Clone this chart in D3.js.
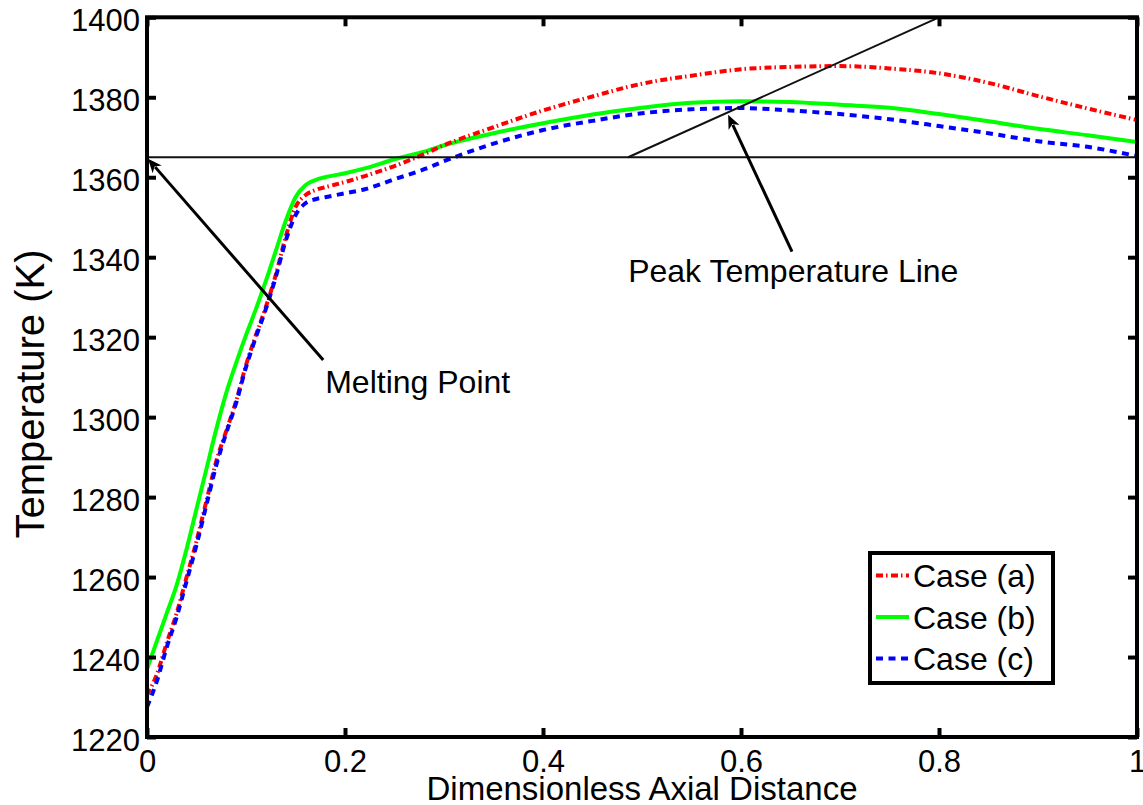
<!DOCTYPE html>
<html>
<head>
<meta charset="utf-8">
<script src="https://cdn.jsdelivr.net/npm/d3@7"></script>
<style>
  html, body { margin: 0; padding: 0; background: #fff; }
  svg { display: block; font-family: "Liberation Sans", Arial, Helvetica, sans-serif; }
</style>
</head>
<body>
<svg id="chart" width="1143" height="805"></svg>
<script>
// Axial positions (dimensionless) at which the temperature profiles are sampled
const axialPos = [0, 0.01, 0.02, 0.03, 0.04, 0.05, 0.06, 0.07, 0.08, 0.09, 0.10,
  0.11, 0.12, 0.13, 0.14, 0.15, 0.16, 0.17, 0.18, 0.20, 0.22, 0.25, 0.28, 0.30,
  0.35, 0.40, 0.45, 0.50, 0.55, 0.60, 0.65, 0.70, 0.75, 0.80, 0.85, 0.90, 0.95, 1.00];

// Temperature (K) for each case
const caseA = [1230.5, 1235.7, 1243.6, 1251, 1260, 1269, 1279, 1289, 1296.5, 1304, 1313,
  1320.5, 1327.5, 1335.5, 1345, 1352.5, 1355.5, 1356.8, 1357.5, 1358.8, 1360.3, 1362.8, 1365.8, 1368,
  1372.5, 1376.7, 1380.2, 1383.4, 1385.4, 1387, 1387.6, 1387.8, 1387.2, 1386, 1383.6, 1380.3, 1377.2, 1374.3];
const caseB = [1237, 1244, 1251, 1258, 1267, 1277, 1287, 1297, 1306, 1313.5, 1320.5,
  1327, 1334, 1341.5, 1349, 1355, 1358, 1359.3, 1360, 1361, 1362.2, 1364.5, 1366.4, 1368,
  1371, 1373.5, 1375.7, 1377.4, 1378.6, 1379, 1378.8, 1378.1, 1377.4, 1375.8, 1374, 1372.1, 1370.5, 1368.8];
const caseC = [1227.5, 1234, 1242.5, 1250, 1259, 1268, 1278, 1288, 1296, 1303.5, 1312.5,
  1320, 1327, 1335, 1344, 1350.5, 1353.5, 1354.5, 1355, 1356, 1357, 1359.5, 1362, 1364,
  1368.4, 1371.8, 1374.1, 1376, 1377, 1377.3, 1376.7, 1375.8, 1374.5, 1372.8, 1371, 1369, 1367.6, 1365.3];

const seriesNames = ["Case (a)", "Case (b)", "Case (c)"];
const xTicks = [0, 0.2, 0.4, 0.6, 0.8, 1];
const xTickLabels = ["0", "0.2", "0.4", "0.6", "0.8", "1"];
const yTicks = [1220, 1240, 1260, 1280, 1300, 1320, 1340, 1360, 1380, 1400];

// Annotation values
const meltingPoint = 1365;
const peakLine = [[0.486, 1365], [0.8, 1400]];
const meltingArrow = [[0.178, 1314.3], [0.001, 1364.6]];
const peakArrow = [[0.6515, 1341.4], [0.587, 1375.6]];
const meltingLabel = { text: "Melting Point", x: 0.18, t: 1306 };
const peakLabel = { text: "Peak Temperature Line", x: 0.486, t: 1333.7 };

const W = 1143, H = 805;
const m = { left: 147, right: 6, top: 17.3, bottom: 68 };
const x = d3.scaleLinear().domain([0, 1]).range([m.left, W - m.right]);
const y = d3.scaleLinear().domain([1220, 1400]).range([H - m.bottom, m.top]);

const svg = d3.select("#chart");

svg.append("defs").append("clipPath").attr("id", "plotClip")
  .append("rect")
  .attr("x", x(0)).attr("y", y(1400))
  .attr("width", x(1) - x(0)).attr("height", y(1220) - y(1400));

const styles = [
  { color: "#ff0000", dash: "7,3,1.5,3.5" },
  { color: "#00ff00", dash: null },
  { color: "#0000ff", dash: "7,5.5" }
];
const allSeries = [caseA, caseB, caseC];

const line = d3.line()
  .x((d, i) => x(axialPos[i]))
  .y(d => y(d))
  .curve(d3.curveMonotoneX);

const plot = svg.append("g").attr("clip-path", "url(#plotClip)");

// Draw the three temperature profiles (b first so the dashed ones remain visible)
[1, 0, 2].forEach(k => {
  plot.append("path")
    .datum(allSeries[k])
    .attr("fill", "none")
    .attr("stroke", styles[k].color)
    .attr("stroke-width", 4)
    .attr("stroke-dasharray", styles[k].dash)
    .attr("d", line);
});

// Melting point horizontal line
svg.append("line")
  .attr("x1", x(0)).attr("x2", x(1))
  .attr("y1", y(meltingPoint)).attr("y2", y(meltingPoint))
  .attr("stroke", "#111").attr("stroke-width", 2);

// Peak temperature line
svg.append("line")
  .attr("x1", x(peakLine[0][0])).attr("y1", y(peakLine[0][1]))
  .attr("x2", x(peakLine[1][0])).attr("y2", y(peakLine[1][1]))
  .attr("stroke", "#111").attr("stroke-width", 2);

// Arrow helper: shaft plus a filled head at the end point
function arrow(p0, p1) {
  const x0 = x(p0[0]), y0 = y(p0[1]), x1 = x(p1[0]), y1 = y(p1[1]);
  const ang = Math.atan2(y1 - y0, x1 - x0);
  const len = 14, half = 6;
  const bx = x1 - len * Math.cos(ang), by = y1 - len * Math.sin(ang);
  svg.append("line")
    .attr("x1", x0).attr("y1", y0)
    .attr("x2", bx + 3 * Math.cos(ang)).attr("y2", by + 3 * Math.sin(ang))
    .attr("stroke", "#000").attr("stroke-width", 3);
  const px = -Math.sin(ang), py = Math.cos(ang);
  const head = [
    [x1, y1],
    [bx + half * px, by + half * py],
    [x1 - (len - 4) * Math.cos(ang), y1 - (len - 4) * Math.sin(ang)],
    [bx - half * px, by - half * py]
  ];
  svg.append("path")
    .attr("d", "M" + head.map(p => p.join(",")).join("L") + "Z")
    .attr("fill", "#000");
}
arrow(meltingArrow[0], meltingArrow[1]);
arrow(peakArrow[0], peakArrow[1]);

svg.append("text")
  .attr("x", x(meltingLabel.x)).attr("y", y(meltingLabel.t))
  .attr("font-size", 32).text(meltingLabel.text);
svg.append("text")
  .attr("x", x(peakLabel.x)).attr("y", y(peakLabel.t))
  .attr("font-size", 32).text(peakLabel.text);

// Axes: ticks inward on all four sides, frame on top
const tickLen = 9;
const axisG = svg.append("g");
const xAxisB = d3.axisBottom(x).tickValues(xTicks).tickSize(-tickLen).tickFormat((d, i) => xTickLabels[i]);
const xAxisT = d3.axisTop(x).tickValues(xTicks).tickSize(-tickLen).tickFormat("");
const yAxisL = d3.axisLeft(y).tickValues(yTicks).tickSize(-tickLen).tickFormat(d3.format("d"));
const yAxisR = d3.axisRight(y).tickValues(yTicks).tickSize(-tickLen).tickFormat("");

function styleAxis(g) {
  g.select(".domain").remove();
  g.selectAll(".tick line").attr("stroke", "#000").attr("stroke-width", 4);
}
axisG.append("g").attr("transform", `translate(0,${y(1220)})`).call(xAxisB).call(styleAxis)
  .selectAll("text").attr("font-size", 31).attr("fill", "#000")
  .attr("y", 0).attr("dy", null).attr("transform", "translate(0,35)");
axisG.append("g").attr("transform", `translate(0,${y(1400)})`).call(xAxisT).call(styleAxis);
axisG.append("g").attr("transform", `translate(${x(0)},0)`).call(yAxisL).call(styleAxis)
  .selectAll("text").attr("font-size", 31).attr("fill", "#000")
  .attr("x", -7).attr("dy", null).attr("y", 13);
axisG.append("g").attr("transform", `translate(${x(1)},0)`).call(yAxisR).call(styleAxis);
axisG.selectAll("text").attr("font-family", "Liberation Sans, Arial, sans-serif");

svg.append("rect")
  .attr("x", x(0)).attr("y", y(1400))
  .attr("width", x(1) - x(0)).attr("height", y(1220) - y(1400))
  .attr("fill", "none").attr("stroke", "#000").attr("stroke-width", 4);

// Axis titles
svg.append("text")
  .attr("x", (x(0) + x(1)) / 2).attr("y", 800)
  .attr("text-anchor", "middle").attr("font-size", 33)
  .text("Dimensionless Axial Distance");
svg.append("text")
  .attr("transform", "translate(44,394) rotate(-90)")
  .attr("text-anchor", "middle").attr("font-size", 40)
  .text("Temperature (K)");

// Legend
const lg = svg.append("g");
lg.append("rect")
  .attr("x", 870).attr("y", 553).attr("width", 183).attr("height", 130)
  .attr("fill", "#fff").attr("stroke", "#000").attr("stroke-width", 4);
seriesNames.forEach((name, i) => {
  const base = 587 + i * 41.5;
  lg.append("line")
    .attr("x1", 876).attr("x2", 909)
    .attr("y1", base - 11.5).attr("y2", base - 11.5)
    .attr("stroke", styles[i].color).attr("stroke-width", 4)
    .attr("stroke-dasharray", styles[i].dash);
  lg.append("text").attr("x", 913).attr("y", base)
    .attr("font-size", 32).text(name);
});
</script>
</body>
</html>
